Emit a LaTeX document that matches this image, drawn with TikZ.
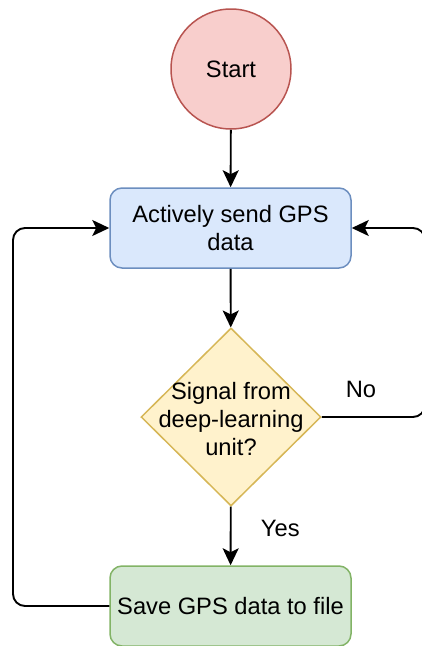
\documentclass[tikz,border=0pt]{standalone}
\usepackage{fontspec}
\setmainfont{Liberation Sans}
\usetikzlibrary{shapes.geometric,arrows.meta}

\definecolor{startfill}{HTML}{F8CECC}
\definecolor{startline}{HTML}{B85450}
\definecolor{sendfill}{HTML}{DAE8FC}
\definecolor{sendline}{HTML}{6C8EBF}
\definecolor{checkfill}{HTML}{FFF2CC}
\definecolor{checkline}{HTML}{D6B656}
\definecolor{savefill}{HTML}{D5E8D4}
\definecolor{saveline}{HTML}{82B366}

\begin{document}
\begin{tikzpicture}[x=1pt, y=-1pt,
    font=\fontsize{23.7}{28}\selectfont,
    flow/.style={-{Stealth[length=17pt, width=16pt, inset=4pt]}, line width=1.9pt},
    stepbox/.style={rectangle, rounded corners=12pt, line width=1.5pt, align=center,
      minimum width=241pt, minimum height=80pt, inner sep=0pt},
    decision/.style={diamond, draw=checkline, fill=checkfill, line width=1.5pt,
      minimum width=180pt, minimum height=178pt, inner sep=0pt}]
    \clip (0, 0) rectangle (422, 646);

    \node[circle, draw=startline, fill=startfill, line width=1.5pt, minimum size=120pt] (start) at (231, 69) {Start};
    \node[stepbox, draw=sendline, fill=sendfill] (send) at (230.5, 228) {Actively send GPS\\data};
    \node[decision] (check) at (231, 417) {};
    \node[align=center] (checktext) at (231, 419) {Signal from\\deep-learning\\unit?};
    \node[stepbox, draw=saveline, fill=savefill] (save) at (230.5, 606) {Save GPS data to file};
    \coordinate (rturn) at (425, 417);
    \coordinate (lturn) at (13, 606);

    \draw[flow] (start) -- (send);
    \draw[flow] (send) -- (check);
    \draw[flow] (check) -- node[pos=0.38, right=26pt]{Yes} (save);
    \draw[flow, rounded corners=12pt] (check.east) -- node[pos=0.38, above=15pt]{No} (rturn) |- (send.east);
    \draw[flow, rounded corners=12pt] (save.west) -- (lturn) |- (send.west);
\end{tikzpicture}
\end{document}
